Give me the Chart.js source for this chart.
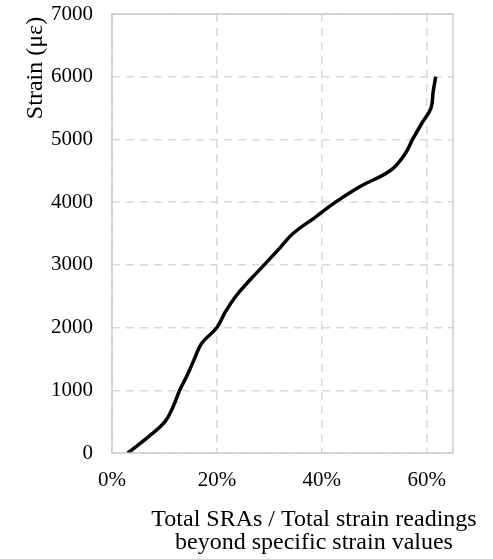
<!DOCTYPE html>
<html>
<head>
<meta charset="utf-8">
<script src="https://cdn.jsdelivr.net/npm/chart.js@4"></script>
<style>
  html, body { margin: 0; padding: 0; background: #ffffff; }
  #wrap { width: 493px; height: 559px; position: relative; }
</style>
</head>
<body>
<div id="wrap"><canvas id="c" width="493" height="559"></canvas></div>
<script>
// Strain thresholds (με) and share of SRAs among readings beyond each threshold (%)
const strainLevels = [0, 250, 500, 750, 1000, 1250, 1500, 1750, 2000, 2250, 2500, 2750,
  3000, 3250, 3500, 3750, 4000, 4250, 4500, 4750, 5000, 5250, 5500, 5750, 6000];
const sraShare = [3.0, 6.8, 10.1, 11.7, 12.9, 14.4, 15.7, 17.1, 20.0, 21.6, 23.6, 26.2,
  29.0, 31.8, 34.5, 38.6, 42.6, 47.3, 53.0, 55.7, 57.3, 59.0, 60.8, 61.2, 61.7];
const xTicks = [0, 20, 40, 60];
const yTicks = [0, 1000, 2000, 3000, 4000, 5000, 6000, 7000];
const xTitleLines = ['Total SRAs / Total strain readings', 'beyond specific strain values'];
const yTitle = 'Strain (\u03bc\u03b5)';

const FONT = '"Liberation Serif", "Times New Roman", serif';

const points = sraShare.map((x, i) => ({ x: x, y: strainLevels[i] }));

const frameAndTitles = {
  id: 'frameAndTitles',
  afterDraw(chart) {
    const { ctx, chartArea: a } = chart;
    ctx.save();
    ctx.strokeStyle = '#cccccc';
    ctx.lineWidth = 1.5;
    ctx.setLineDash([]);
    ctx.strokeRect(a.left, a.top, a.right - a.left, a.bottom - a.top);

    ctx.fillStyle = '#000000';
    ctx.font = '24px ' + FONT;
    ctx.textAlign = 'center';
    ctx.textBaseline = 'middle';
    ctx.fillText(xTitleLines[0], 314, 520);
    ctx.fillText(xTitleLines[1], 314, 543);

    ctx.translate(36, 68);
    ctx.rotate(-Math.PI / 2);
    ctx.fillText(yTitle, 0, 0);
    ctx.restore();
  }
};

new Chart(document.getElementById('c'), {
  type: 'scatter',
  data: {
    datasets: [{
      data: points,
      showLine: true,
      borderColor: '#000000',
      borderWidth: 3.5,
      pointRadius: 0,
      tension: 0.4,
      fill: false
    }]
  },
  options: {
    responsive: false,
    animation: false,
    layout: { padding: { top: 14, right: 40, left: 0, bottom: 0 } },
    plugins: { legend: { display: false }, tooltip: { enabled: false } },
    scales: {
      x: {
        type: 'linear',
        min: 0,
        max: 65,
        afterBuildTicks(scale) { scale.ticks = xTicks.map(v => ({ value: v })); },
        afterFit(scale) {
          scale.height = 106;
          scale.paddingLeft = 0;
          scale.paddingRight = 0;
        },
        ticks: {
          font: { family: FONT, size: 21 },
          color: '#000000',
          padding: 15,
          callback: v => v + '%'
        },
        grid: { color: '#d9d9d9', lineWidth: 1.5, drawTicks: false },
        border: { display: false, dash: [8, 6] }
      },
      y: {
        type: 'linear',
        min: 0,
        max: 7000,
        afterBuildTicks(scale) { scale.ticks = yTicks.map(v => ({ value: v })); },
        afterFit(scale) {
          scale.width = 112;
          scale.paddingTop = 0;
          scale.paddingBottom = 0;
        },
        ticks: {
          font: { family: FONT, size: 21 },
          color: '#000000',
          padding: 19,
          callback: v => String(v)
        },
        grid: { color: '#d9d9d9', lineWidth: 1.5, drawTicks: false },
        border: { display: false, dash: [8, 6] }
      }
    }
  },
  plugins: [frameAndTitles]
});
</script>
</body>
</html>
